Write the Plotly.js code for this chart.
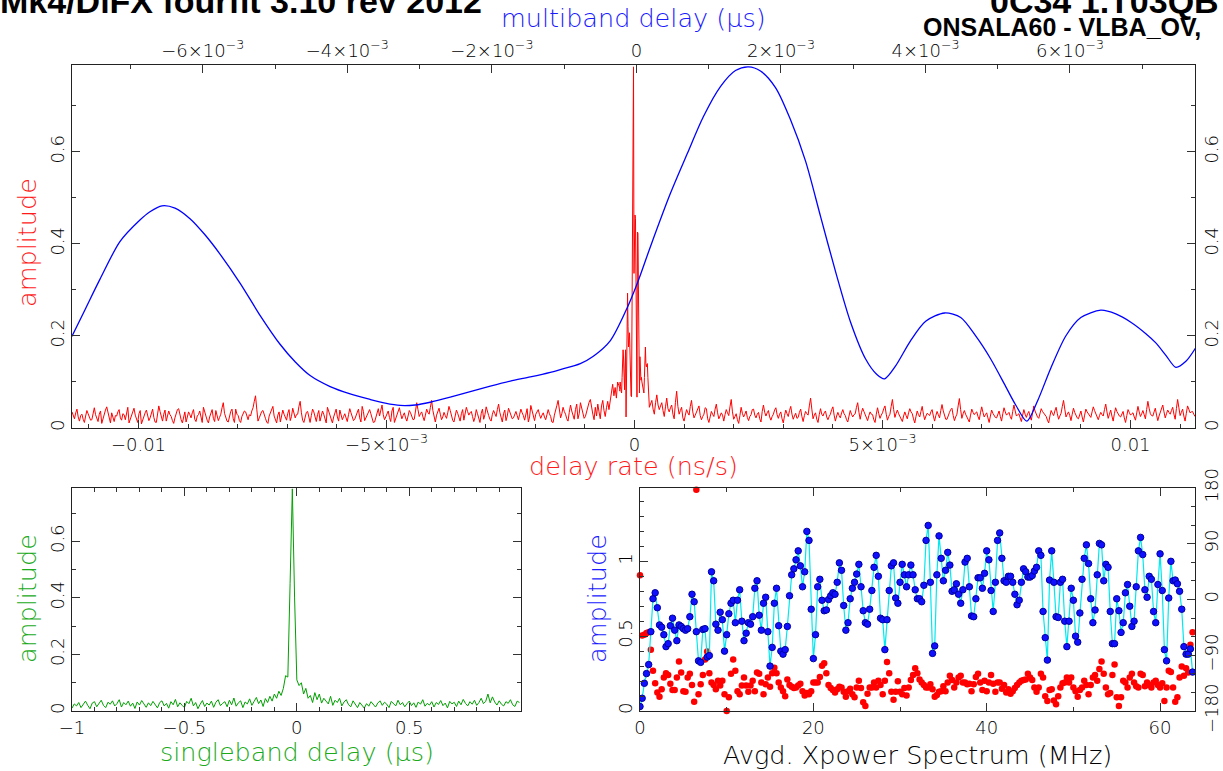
<!DOCTYPE html>
<html><head><meta charset="utf-8">
<script src="https://cdn.plot.ly/plotly-3.0.1.min.js"></script>
<style>html,body{margin:0;padding:0;background:#fff;overflow:hidden}#chart{width:1223px;height:771px}</style>
</head><body><div id="chart"></div>
<script>
// ---------- DATA ----------
// Top panel: fringe amplitude vs delay rate (ns/s), three sampled segments
const rateLeftStart = -0.01134, rateCoarseStep = 2.5e-5;
const rateLeft = [
.035,.028,.020,.033,.041,.024,.015,.027,.030,.019,.012,.026,.038,.031,.025,.017,.018,.036,.044,.029,
.022,.014,.030,.037,.010,.021,.028,.039,.046,.032,.019,.011,.033,.025,.014,.027,.026,.035,.040,.022,
.017,.031,.029,.018,.036,.045,.011,.020,.024,.034,.043,.028,.020,.012,.031,.038,.009,.019,.027,.033,
.039,.025,.016,.022,.034,.041,.023,.013,.012,.030,.048,.036,.021,.015,.030,.039,.015,.024,.037,.029,
.025,.016,.010,.022,.032,.040,.042,.027,.018,.011,.027,.035,.013,.024,.035,.029,.022,.033,.040,.019,
.014,.026,.029,.037,.019,.012,.045,.033,.026,.017,.011,.024,.033,.040,.021,.014,.038,.027,.016,.023,
.030,.044,.055,.032,.024,.015,.013,.027,.036,.041,.020,.012,.041,.030,.027,.016,.012,.025,.031,.037,
.035,.024,.018,.029,.026,.037,.044,.058,.070,.041,.015,.022,.029,.036,.038,.027,.021,.013,.010,.026,
.034,.041,.047,.026,.019,.011,.028,.035,.013,.024,.039,.030,.024,.017,.032,.040,.016,.025,.043,.031,
.022,.029,.030,.047,.058,.033,.017,.012,.026,.034,.036,.021,.012,.027,.041,.035,.023,.014,.029,.038,
.015,.026,.037,.030,.020,.011,.045,.036,.028,.019,.011,.024,.033,.041,.024,.015,.039,.030,.018,.025,
.031,.022,.014,.029,.042,.033,.025,.016,.019,.027,.035,.041,.022,.013,.047,.036,.016,.022,.028,.034,
.040,.031,.021,.012,.013,.025,.034,.042,.026,.038,.050,.029,.018,.024,.030,.037,.023,.014,.037,.045,
.012,.020,.029,.037,.044,.031,.020,.027,.033,.022,.015,.026,.038,.033,.027,.018,.019,.036,.055,.040,
.025,.031,.035,.024,.016,.028,.041,.034,.030,.045,.060,.038,.022,.013,.028,.036,.043,.030,.018,.024,
.034,.027,.021,.033,.047,.038,.026,.017,.013,.024,.039,.032,.024,.015,.031,.040,.017,.028,.045,.036,
.028,.033,.036,.025,.014,.023,.040,.031,.023,.012,.032,.041,.019,.029,.046,.034,.027,.019,.015,.030,
.038,.031,.025,.040,.052,.034,.020,.013,.031,.039,.016,.026,.043,.035,.029,.020,.022,.030,.036,.027,
.018,.030,.041,.033,.027,.017,.034,.042,.013,.024,.049,.037,.025,.016,.030,.036,.040,.029,.021,.028,
.033,.024,.018,.029,.040,.031,.025,.013,.012,.028,.036,.049,.060,.038,.022,.031,.045,.036,.030,.020,
.015,.034,.050,.037,.028,.019,.040,.052,.020,.031,.055,.043,.035,.021,.025,.038,.048,.056,.062,.040,
.030,.018,.045,.026,.052,.035,.020,.048,.060,.038,.025,.044,.058,.040,.060,.080,.095,.070,.088,.065,
.100,.092,.085];
const rateCenterStart = -0.0003, rateFineStep = 1e-5;
const rateCenter = [
.080,.100,.090,.080,.076,.110,.140,.170,.150,.100,
.083,.130,.170,.024,.120,.250,.293,.220,.176,.190,
.207,.140,.080,.070,.068,.300,.600,.750,.785,.336,
.420,.463,.455,.336,.100,.067,.426,.423,.300,.180,
.076,.155,.130,.104,.110,.100,.094,.090,.085,.076,
.110,.150,.176,.140,.133,.138,.140,.110,.076,.060,
.045];
const rateRightStart = 0.0003;
const rateRight = [
.045,.052,.060,.041,.030,.055,.072,.050,.040,.048,.055,.038,.025,.046,.065,.042,.035,.044,.050,.030,
.020,.055,.080,.047,.030,.038,.045,.022,.015,.028,.040,.033,.028,.047,.060,.035,.022,.028,.035,.042,
.048,.027,.018,.025,.030,.044,.042,.020,.012,.024,.036,.030,.025,.041,.052,.033,.020,.026,.033,.028,
.015,.029,.040,.033,.027,.046,.062,.035,.019,.025,.031,.018,.010,.027,.045,.032,.024,.030,.037,.023,
.016,.025,.029,.040,.041,.028,.022,.030,.034,.020,.013,.036,.050,.034,.026,.033,.038,.024,.017,.025,
.030,.039,.044,.029,.021,.030,.035,.020,.011,.027,.039,.031,.025,.038,.047,.030,.019,.026,.032,.021,
.023,.034,.041,.025,.014,.027,.036,.031,.028,.048,.065,.041,.020,.028,.033,.019,.012,.029,.042,.030,
.026,.033,.037,.024,.018,.025,.030,.040,.046,.028,.015,.026,.034,.027,.022,.033,.040,.031,.027,.018,
.013,.026,.038,.030,.024,.029,.031,.045,.055,.034,.019,.033,.043,.036,.028,.020,.016,.027,.035,.030,
.029,.018,.012,.030,.044,.031,.021,.028,.033,.042,.048,.030,.017,.025,.030,.047,.062,.040,.023,.032,
.039,.031,.026,.018,.014,.026,.035,.027,.020,.033,.042,.035,.031,.020,.011,.025,.037,.029,.024,.036,
.047,.030,.018,.026,.032,.030,.027,.035,.040,.026,.015,.027,.036,.029,.022,.038,.051,.037,.028,.019,
.019,.028,.034,.040,.043,.027,.016,.024,.030,.048,.064,.040,.021,.031,.038,.030,.025,.018,.013,.028,
.041,.034,.029,.033,.035,.025,.018,.033,.046,.034,.024,.029,.033,.022,.012,.026,.039,.032,.027,.023,
.022,.031,.037,.025,.015,.031,.044,.035,.028,.031,.034,.025,.019,.036,.050,.037,.026,.029,.031,.022,
.014,.028,.040,.030,.023,.031,.036,.025,.017,.033,.048,.037,.029,.024,.021,.033,.042,.036,.033,.028,
.025,.017,.011,.026,.038,.032,.027,.037,.045,.031,.019,.026,.032,.047,.060,.041,.024,.030,.035,.027,
.016,.030,.043,.034,.028,.022,.020,.029,.037,.024,.013,.028,.041,.035,.030,.026,.023,.035,.046,.038,
.032,.024,.018,.027,.034,.029,.026,.040,.052,.035,.021,.030,.039,.026,.015,.031,.044,.036,.029,.026,
.024,.031,.036,.022,.012,.027,.040,.034,.028,.031,.033,.024,.017,.033,.047,.035,.025,.031,.038,.029,
.020,.040,.058,.043,.031,.027,.026,.035,.043,.028,.016,.026,.035,.043,.050,.035,.022,.031,.039,.034,
.030,.038,.045,.030,.019,.042,.062,.044,.027,.034,.041,.026,.015,.032,.048,.041,.033,.035,.036,.030,.025];

// Top panel: amplitude vs multiband delay (µs)
const mbdDelay = [-7.812e-3,-7.618e-3,-7.424e-3,-7.147e-3,-6.870e-3,-6.731e-3,-6.565e-3,-6.385e-3,-6.177e-3,-5.970e-3,
-5.762e-3,-5.485e-3,-5.208e-3,-4.931e-3,-4.723e-3,-4.515e-3,-4.238e-3,-3.961e-3,-3.684e-3,-3.476e-3,
-3.269e-3,-3.061e-3,-2.853e-3,-2.576e-3,-2.299e-3,-2.022e-3,-1.745e-3,-1.468e-3,-1.191e-3,-1.053e-3,
-0.776e-3,-0.596e-3,-0.360e-3,-0.125e-3,0.014e-3,0.194e-3,0.471e-3,0.706e-3,0.928e-3,1.163e-3,
1.371e-3,1.551e-3,1.717e-3,1.925e-3,2.133e-3,2.341e-3,2.548e-3,2.756e-3,2.964e-3,3.172e-3,
3.324e-3,3.435e-3,3.587e-3,3.795e-3,4.003e-3,4.266e-3,4.488e-3,4.695e-3,4.903e-3,5.111e-3,
5.249e-3,5.402e-3,5.554e-3,5.734e-3,5.942e-3,6.150e-3,6.427e-3,6.634e-3,6.842e-3,7.050e-3,
7.188e-3,7.327e-3,7.465e-3,7.604e-3,7.742e-3];
const mbdAmp = [0.199,0.261,0.323,0.405,0.452,0.470,0.483,0.478,0.455,0.420,
0.378,0.315,0.245,0.182,0.144,0.114,0.090,0.074,0.062,0.054,
0.049,0.050,0.056,0.067,0.079,0.091,0.102,0.111,0.121,0.127,
0.140,0.156,0.190,0.262,0.315,0.394,0.510,0.597,0.677,0.742,
0.777,0.785,0.776,0.740,0.670,0.580,0.460,0.340,0.230,0.150,
0.117,0.107,0.135,0.190,0.232,0.250,0.240,0.200,0.150,0.090,
0.050,0.015,0.060,0.130,0.200,0.240,0.256,0.248,0.230,0.205,
0.185,0.158,0.132,0.145,0.175];

// Bottom-left: amplitude vs singleband delay (µs)
const sbdStart = -1, sbdStep = 0.01;
const sbdAmp = [
.010,.025,.018,.030,.012,.022,.035,.020,.008,.028,
.033,.015,.027,.038,.020,.012,.031,.024,.036,.018,
.026,.040,.014,.030,.022,.035,.017,.028,.009,.032,
.021,.037,.025,.013,.029,.019,.034,.024,.011,.030,
.036,.018,.027,.010,.033,.022,.041,.015,.029,.020,
.012,.034,.026,.045,.018,.030,.008,.024,.037,.016,
.028,.021,.035,.013,.031,.040,.019,.027,.033,.015,
.038,.022,.046,.017,.029,.036,.012,.032,.025,.043,
.020,.034,.048,.026,.039,.016,.044,.030,.052,.035,
.060,.045,.070,.055,.080,.125,.120,.450,.786,.400,
.110,.090,.100,.060,.080,.045,.055,.030,.065,.040,
.060,.028,.045,.035,.025,.052,.020,.038,.030,.045,
.018,.032,.040,.022,.015,.036,.025,.012,.030,.019,
.010,.026,.017,.033,.022,.014,.028,.036,.020,.031,
.024,.012,.034,.027,.018,.038,.022,.030,.015,.026,
.035,.019,.029,.013,.032,.024,.040,.017,.027,.021,
.033,.014,.030,.023,.037,.019,.028,.011,.034,.025,
.031,.016,.035,.022,.041,.027,.018,.033,.024,.038,
.020,.030,.045,.026,.034,.060,.029,.050,.032,.021,
.036,.024,.018,.033,.027,.040,.022,.016,.035,.030];

// Bottom-right: averaged cross-power spectrum, 0.25 MHz channels
const freqStart = 0, freqStep = 0.25;
const xpAmp = [
.03,.085,.185,.25,.31,.53,.75,.79,.69,.575,
.56,.51,.43,.45,.57,.62,.54,.47,.575,.565,
.55,.54,.55,.63,.78,.73,.53,.335,.325,.545,
.55,.36,.37,.93,.87,.58,.54,.66,.61,.40,
.51,.65,.72,.74,.59,.74,.81,.60,.47,.52,
.59,.58,.63,.82,.87,.64,.54,.72,.76,.53,
.30,.425,.72,.82,.57,.40,.38,.41,.565,.77,
.91,.95,1.01,1.07,.97,.83,.93,1.20,1.14,.68,
.35,.51,.83,.88,.74,.67,.675,.745,.77,.79,
.78,.86,.99,.94,.705,.54,.59,.75,.82,.86,
.915,.98,.83,.67,.59,.58,.68,.805,.96,1.04,
.90,.62,.61,.41,.61,.805,.97,.99,.755,.72,
.86,.98,.91,.83,.91,.975,.91,.81,.75,.75,
.73,.84,1.14,1.24,.86,.385,.435,.91,1.17,1.02,
.87,.94,1.06,.975,.80,.81,.85,.78,.72,.81,
.995,1.02,.83,.635,.63,.75,.89,.89,.82,.92,
1.07,1.01,.805,.665,.86,1.14,1.19,1.02,.87,.86,
.90,.90,.86,.78,.71,.74,.86,.95,.93,.895,
.895,.905,.935,.96,1.07,1.04,.665,.49,.34,.875,
1.07,.86,.63,.625,.86,.88,.60,.43,.60,.82,
.74,.50,.46,.655,.88,1.02,1.11,.985,.75,.59,
.675,.91,1.12,1.11,.87,.98,.96,.665,.45,.45,
.75,.67,.525,.59,.79,.845,.70,.565,.60,.83,
1.07,1.16,1.045,.81,.76,.90,.88,.665,.59,.845,
1.05,.805,.41,.335,.755,1.00,.87,.875,.85,.80,
.68,.43,.38,.38,.415,.26];
const xpPhase = [
39,-58,-57,-54,-53,-81,-115,-135,-150,-157,
-145,-126,-119,-122,-136,-146,-146,-126,-100,-118,
-148,-149,-126,-120,-138,-165,177,-153,-137,-122,
-97,-84,-119,-134,-138,-145,-131,-139,-131,-153,
-180,-158,-120,-97,-115,-148,-153,-139,-126,-139,
-149,-139,-131,-148,-118,-120,-134,-153,-137,-126,
-141,-119,-110,-119,-134,-142,-148,-156,-129,-138,
-141,-143,-142,-139,-136,-148,-155,-151,-153,-148,
-134,-134,-134,-125,-107,-103,-119,-138,-143,-146,
-150,-145,-141,-142,-149,-157,-148,-144,-153,-158,
-142,-131,-143,-166,-172,-152,-142,-142,-134,-142,
-131,-138,-153,-131,-101,-119,-149,-162,-149,-132,
-149,-153,-143,-155,-142,-130,-122,-111,-119,-129,
-134,-138,-142,-142,-137,-145,-157,-154,-149,-148,
-140,-148,-134,-123,-130,-142,-134,-126,-123,-134,
-134,-137,-136,-148,-137,-125,-120,-134,-146,-131,
-148,-134,-122,-136,-149,-134,-134,-144,-138,-150,
-145,-152,-148,-143,-138,-134,-131,-130,-129,-120,
-126,-130,-142,-149,-142,-120,-126,-156,-164,-146,
-145,-163,-169,-156,-142,-135,-134,-126,-134,-126,
-142,-148,-157,-146,-142,-131,-138,-153,-138,-126,
-122,-131,-112,-100,-120,-142,-153,-151,-122,-105,
-158,-172,-158,-131,-134,-142,-126,-120,-134,-140,
-142,-120,-122,-140,-134,-138,-142,-134,-131,-138,
-142,-135,-164,-142,-115,-117,-142,-165,-158,-126,
-108,-123,-111,-118,-73,-53];

// Tick labels
const rateTickVals = [-0.01,-0.005,0,0.005,0.01];
const rateTickText = ['\u22120.01','\u22125\u00d710<sup>\u22123</sup>','0','5\u00d710<sup>\u22123</sup>','0.01'];
const mbdTickVals = [-0.006,-0.004,-0.002,0,0.002,0.004,0.006];
const mbdTickText = ['\u22126\u00d710<sup>\u22123</sup>','\u22124\u00d710<sup>\u22123</sup>','\u22122\u00d710<sup>\u22123</sup>','0','2\u00d710<sup>\u22123</sup>','4\u00d710<sup>\u22123</sup>','6\u00d710<sup>\u22123</sup>'];
const ampTickVals = [0,0.2,0.4,0.6];
const ampTickText = ['0','0.2','0.4','0.6'];
const sbdTickVals = [-1,-0.5,0,0.5];
const sbdTickText = ['\u22121','\u22120.5','0','0.5'];
const freqTickVals = [0,20,40,60];
const freqTickText = ['0','20','40','60'];
const xpAmpTickVals = [0,0.5,1];
const xpAmpTickText = ['0','0.5','1'];
const phaseTickVals = [-180,-90,0,90,180];
const phaseTickText = ['\u2212180','\u221290','0','90','180'];

// ---------- STYLE / LAYOUT ----------
const W = 1223, H = 771;
const FONT = 'DejaVu Sans';
const tickFont = {family: FONT, size: 18, color: '#000', weight: 200};
function px(x){ return x / W; }
function py(y){ return 1 - y / H; }
function ax(o){
  return Object.assign({
    showline: true, linecolor: '#222', linewidth: 1,
    ticks: 'inside', ticklen: 8, tickwidth: 1, tickcolor: '#333',
    showgrid: false, zeroline: false, tickfont: tickFont, fixedrange: true,
    tickmode: 'array'
  }, o);
}
function minor(d){ return {ticks: 'inside', ticklen: 4, tickwidth: 1, tickcolor: '#333', tickmode: 'linear', tick0: 0, dtick: d, showgrid: false}; }
function ann(text, x, y, o){
  return Object.assign({text: text, x: px(x), y: py(y), xref:'paper', yref:'paper', xanchor:'center', yanchor:'middle', showarrow:false}, o);
}
const TS = 25.5;

const topX = [px(72), px(1195)];
const topY = [py(428), py(65)];
const blX = [px(72), px(521)];
const botY = [py(711), py(488)];
const brX = [px(640), px(1195)];

const traces = [
  {type:'scatter', mode:'lines', x0: rateLeftStart, dx: rateCoarseStep, y: rateLeft, xaxis:'x', yaxis:'y', line:{color:'#ff0000', width:1}, hoverinfo:'skip'},
  {type:'scatter', mode:'lines', x0: rateCenterStart, dx: rateFineStep, y: rateCenter, xaxis:'x', yaxis:'y', line:{color:'#ff0000', width:1}, hoverinfo:'skip'},
  {type:'scatter', mode:'lines', x0: rateRightStart, dx: rateCoarseStep, y: rateRight, xaxis:'x', yaxis:'y', line:{color:'#ff0000', width:1}, hoverinfo:'skip'},
  {type:'scatter', mode:'lines', x: mbdDelay, y: mbdAmp, xaxis:'x2', yaxis:'y', line:{color:'#0000ff', width:1.3, shape:'spline', smoothing:0.8}, hoverinfo:'skip'},
  {type:'scatter', mode:'lines', x: [], y: [], xaxis:'x', yaxis:'y2', hoverinfo:'skip'},
  {type:'scatter', mode:'lines', x0: sbdStart, dx: sbdStep, y: sbdAmp, xaxis:'x3', yaxis:'y3', line:{color:'#00a000', width:1}, hoverinfo:'skip'},
  {type:'scatter', mode:'markers', x0: freqStart, dx: freqStep, y: xpPhase, xaxis:'x4', yaxis:'y4', cliponaxis:false, marker:{color:'#ff0000', size:6.5}, hoverinfo:'skip'},
  {type:'scatter', mode:'lines+markers', x0: freqStart, dx: freqStep, y: xpAmp, xaxis:'x4', yaxis:'y5', line:{color:'#00e8f0', width:1.2}, marker:{color:'#1010ff', size:6.5, line:{color:'#0000a0', width:1}}, hoverinfo:'skip'}
];

const layout = {
  width: W, height: H, margin: {l:0, r:0, t:0, b:0, pad:0},
  paper_bgcolor: '#fff', plot_bgcolor: 'rgba(0,0,0,0)', showlegend: false,
  font: {family: FONT, size: 18, color: '#000', weight: 200},
  xaxis: ax({domain: topX, anchor:'y', range:[-0.01134, 0.0113], tickvals: rateTickVals, ticktext: rateTickText, minor: minor(0.001)}),
  xaxis2: ax({overlaying:'x', side:'top', anchor:'y', range:[-0.00781, 0.00773], tickvals: mbdTickVals, ticktext: mbdTickText, minor: minor(0.001)}),
  yaxis: ax({domain: topY, anchor:'x', range:[0, 0.789], tickvals: ampTickVals, ticktext: ampTickText, tickangle:-90, minor: minor(0.1)}),
  yaxis2: ax({overlaying:'y', side:'right', anchor:'x', range:[0, 0.789], tickvals: ampTickVals, ticktext: ampTickText, tickangle:-90, minor: minor(0.1)}),
  xaxis3: ax({domain: blX, anchor:'y3', range:[-1, 0.997], tickvals: sbdTickVals, ticktext: sbdTickText, minor: minor(0.1), mirror:'ticks'}),
  yaxis3: ax({domain: botY, anchor:'x3', range:[0, 0.789], tickvals: ampTickVals, ticktext: ampTickText, tickangle:-90, minor: minor(0.1), mirror:'ticks'}),
  xaxis4: ax({domain: brX, anchor:'y4', range:[0, 64.03], tickvals: freqTickVals, ticktext: freqTickText, minor: minor(10), mirror:'ticks'}),
  yaxis4: ax({domain: botY, anchor:'x4', side:'right', range:[-180, 180], tickvals: phaseTickVals, ticktext: phaseTickText, tickangle:-90, minor: minor(30)}),
  yaxis5: ax({overlaying:'y4', side:'left', anchor:'x4', range:[0, 1.49], tickvals: xpAmpTickVals, ticktext: xpAmpTickText, tickangle:-90, minor: minor(0.1)}),
  annotations: [
    ann('Mk4/DiFX fourfit 3.10 rev 2012', -2, 22, {xanchor:'left', yanchor:'bottom', font:{family:'Liberation Sans', size:34, color:'#000', weight:700}}),
    ann('0C34 1.T03QB', 1221, 22, {xanchor:'right', yanchor:'bottom', font:{family:'Liberation Sans', size:34, color:'#000', weight:700}}),
    ann('ONSALA60 - VLBA_OV,', 921, 43, {xanchor:'left', yanchor:'bottom', font:{family:'Liberation Sans', size:25, color:'#000', weight:700}}),
    ann('multiband delay (\u03bcs)', 633, 18, {font:{family:FONT, size:TS, color:'#1a1aff', weight:200}}),
    ann('delay rate (ns/s)', 633, 466, {font:{family:FONT, size:TS, color:'#ff1a1a', weight:200}}),
    ann('amplitude', 27, 243, {textangle:-90, font:{family:FONT, size:TS, color:'#ff1a1a', weight:200}}),
    ann('amplitude', 27, 599, {textangle:-90, font:{family:FONT, size:TS, color:'#1aaa1a', weight:200}}),
    ann('singleband delay (\u03bcs)', 297, 752, {font:{family:FONT, size:TS, color:'#1aaa1a', weight:200}}),
    ann('amplitude', 597, 599, {textangle:-90, font:{family:FONT, size:TS, color:'#1a1aff', weight:200}}),
    ann('Avgd. Xpower Spectrum (MHz)', 917, 755, {font:{family:FONT, size:TS, color:'#000', weight:200}})
  ]
};

Plotly.newPlot('chart', traces, layout, {displayModeBar:false, staticPlot:true});
</script></body></html>
